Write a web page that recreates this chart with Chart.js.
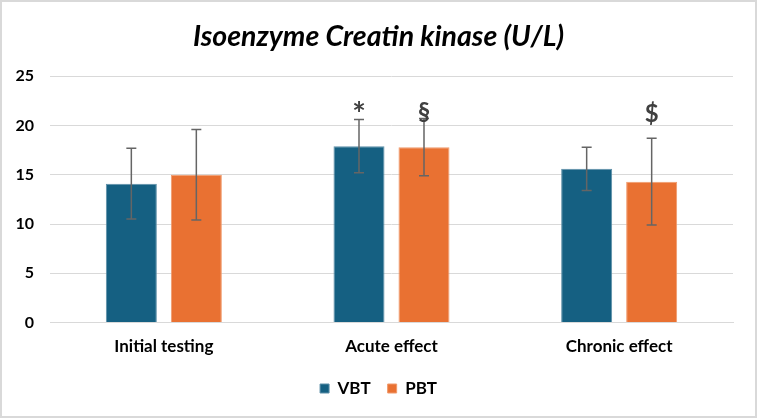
<!DOCTYPE html>
<html>
<head>
<meta charset="utf-8">
<script src="https://cdn.jsdelivr.net/npm/chart.js@4.4.1/dist/chart.umd.min.js"></script>
<style>
  html, body { margin: 0; padding: 0; background: #fff; }
  #wrap {
    width: 757px; height: 418px; box-sizing: border-box;
    border: 2px solid #d9d9d9; position: relative;
  }
  #chart { display: block; }
</style>
</head>
<body>
<div id="wrap"><canvas id="chart" width="753" height="414"></canvas></div>
<script>
// Isoenzyme CK chart data
const categories = ['Initial testing', 'Acute effect', 'Chronic effect'];
const vbtValues = [14.1, 17.9, 15.6];
const vbtErrors = [3.6, 2.7, 2.2];
const pbtValues = [15.0, 17.8, 14.3];
const pbtErrors = [4.6, 2.9, 4.4];
// significance marks: [datasetIndex, categoryIndex, text, y value]
const marks = [
  [0, 1, '*', 21.0],
  [1, 1, '§', 21.3],
  [1, 2, '$', 21.1]
];
const yTicks = [0, 5, 10, 15, 20, 25];

const FONT = 'Lato, "Open Sans", sans-serif';

// draws the error bars and the marks above the bars
const errorBarPlugin = {
  id: 'errorBars',
  afterDatasetsDraw(chart) {
    const ctx = chart.ctx;
    const y = chart.scales.y;
    const errs = [vbtErrors, pbtErrors];
    ctx.save();
    ctx.strokeStyle = '#656565';
    ctx.lineWidth = 1.5;
    chart.data.datasets.forEach((ds, di) => {
      const meta = chart.getDatasetMeta(di);
      meta.data.forEach((bar, i) => {
        const v = ds.data[i];
        const top = y.getPixelForValue(v + errs[di][i]);
        const bot = y.getPixelForValue(v - errs[di][i]);
        const x = bar.x;
        ctx.beginPath();
        ctx.moveTo(x, top); ctx.lineTo(x, bot);
        ctx.moveTo(x - 5, top); ctx.lineTo(x + 5, top);
        ctx.moveTo(x - 5, bot); ctx.lineTo(x + 5, bot);
        ctx.stroke();
      });
    });
    ctx.fillStyle = '#404040';
    ctx.textAlign = 'center';
    ctx.textBaseline = 'middle';
    marks.forEach(([di, ci, txt, val]) => {
      const bar = chart.getDatasetMeta(di).data[ci];
      // the asterisk glyph is small in Lato, so draw it larger
      ctx.font = 'bold ' + (txt === '*' ? 32 : 24) + 'px ' + FONT;
      ctx.fillText(txt, bar.x, y.getPixelForValue(val));
    });
    ctx.restore();
  }
};

const ctx = document.getElementById('chart').getContext('2d');
new Chart(ctx, {
  type: 'bar',
  data: {
    labels: categories,
    datasets: [
      {
        label: 'VBT',
        data: vbtValues,
        backgroundColor: '#156082',
        borderColor: '#5d8fa8',
        borderWidth: 1,
        categoryPercentage: 0.571,
        barPercentage: 0.785
      },
      {
        label: 'PBT',
        data: pbtValues,
        backgroundColor: '#e97132',
        borderColor: '#f09a6c',
        borderWidth: 1,
        categoryPercentage: 0.571,
        barPercentage: 0.785
      }
    ]
  },
  options: {
    responsive: false,
    animation: false,
    layout: {
      padding: { left: 0, right: 0, top: 8, bottom: 9 }
    },
    plugins: {
      title: {
        display: true,
        text: 'Isoenzyme Creatin kinase (U/L)',
        color: '#000',
        font: { family: FONT, size: 28.5, weight: 'bold', style: 'italic' },
        padding: { top: 10, bottom: 22 }
      },
      legend: {
        position: 'bottom',
        labels: {
          color: '#000',
          boxWidth: 9,
          boxHeight: 9,
          padding: 17,
          font: { family: FONT, size: 17, weight: 'bold' }
        }
      },
      tooltip: { enabled: false }
    },
    scales: {
      x: {
        grid: { display: false },
        border: { display: true, color: '#d9d9d9', width: 1 },
        ticks: {
          color: '#000',
          padding: 6,
          font: { family: FONT, size: 17, weight: 'bold' }
        }
      },
      y: {
        min: 0,
        max: 25,
        afterBuildTicks: (axis) => {
          axis.ticks = yTicks.map(v => ({ value: v }));
        },
        afterFit: (axis) => {
          axis.width = 48;
        },
        grid: { color: '#d9d9d9', drawTicks: false, lineWidth: 1 },
        border: { display: false },
        ticks: {
          color: '#000',
          padding: 16,
          font: { family: FONT, size: 16, weight: 'bold' }
        }
      },
      // empty right axis, only keeps the plot clear of the right edge
      yRight: {
        position: 'right',
        grid: { display: false },
        border: { display: false },
        ticks: { display: false },
        afterFit: (axis) => {
          axis.width = 22;
        }
      }
    }
  },
  plugins: [errorBarPlugin]
});
</script>
</body>
</html>
